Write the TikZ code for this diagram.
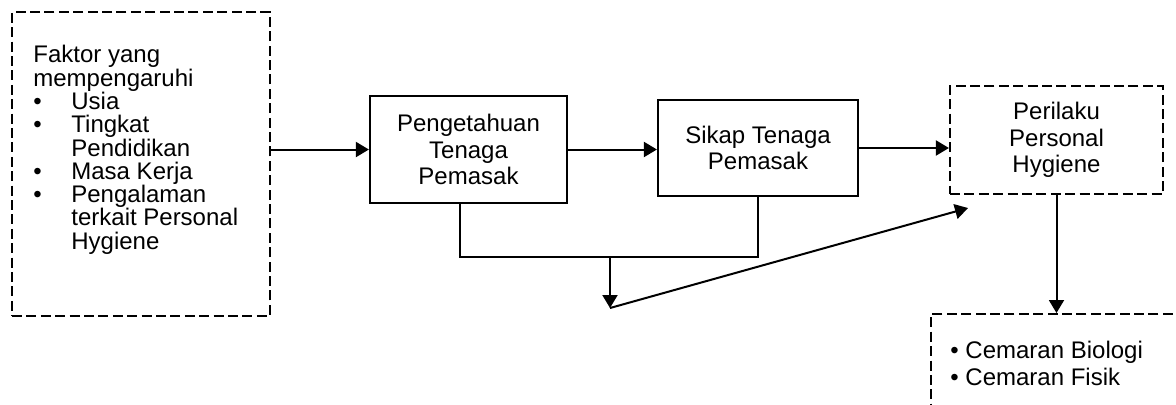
\documentclass[tikz,border=0pt]{standalone}
\usepackage{fontspec}
\setmainfont{Liberation Sans}
\usetikzlibrary{arrows.meta,positioning}

\tikzset{
  solidbox/.style={draw,line width=1.1pt,align=center,inner sep=0pt},
  dashbox/.style={draw,dash pattern=on 5pt off 2.2pt,line width=1.1pt,align=center,inner sep=0pt},
  arr/.style={-{Triangle[length=6.5pt,width=7.5pt]},line width=1pt},
  ln/.style={line width=1pt},
}
\newcommand{\itm}[1]{\makebox[19pt][l]{\textbullet}#1}
\newcommand{\cnt}[1]{\hspace*{19pt}#1}

\begin{document}
\begin{tikzpicture}[x=0.5pt,y=-0.5pt,font=\fontsize{12}{13.3}\selectfont]
\useasboundingbox (0,0) rectangle (1176,404);
\clip (0,0) rectangle (1176,404);
% boxes
\node[dashbox,minimum width=129pt,minimum height=152pt] (factor) at (141,164) {};
\node[anchor=north west,align=left,inner sep=0pt,font=\fontsize{12}{11.65}\selectfont] (factortext) at (33,45)
  {Faktor yang\\mempengaruhi\\\itm{Usia}\\\itm{Tingkat}\\\cnt{Pendidikan}\\\itm{Masa Kerja}\\\itm{Pengalaman}\\\cnt{terkait Personal}\\\cnt{Hygiene}};
\node[solidbox,minimum width=98.5pt,minimum height=53.5pt] (peng) at (468.5,149.5) {Pengetahuan\\Tenaga\\Pemasak};
\node[solidbox,minimum width=100pt,minimum height=48pt] (sikap) at (758,148) {Sikap Tenaga\\Pemasak};
\node[dashbox,minimum width=106.5pt,minimum height=54pt] (perilaku) at (1056.5,140) {Perilaku\\Personal\\Hygiene};
\node[dashbox,anchor=north west,minimum width=160pt,minimum height=60pt] (contam) at (930,313) {};
\node[anchor=north west,align=left,inner sep=0pt,font=\fontsize{12}{13.5}\selectfont] (contamtext) at (950,341)
  {\textbullet\ Cemaran Biologi\\\textbullet\ Cemaran Fisik};
% connectors
\draw[arr] (factor.east |- peng.west) -- (peng.west);
\draw[arr] (peng.east) -- (peng.east -| sikap.west);
\draw[arr] (sikap.east) -- (sikap.east -| perilaku.west);
\coordinate (split) at (610,257);
\coordinate (merge) at (610,308);
\coordinate (tip) at (968,208);
\draw[ln] ([xshift=45.5pt]peng.south west) |- (split) -| (sikap.south);
\draw[arr] (split) -- (merge);
\draw[arr] (merge) -- (tip);
\draw[arr] (perilaku.south) -- (perilaku.south |- contam.north);
\end{tikzpicture}
\end{document}
